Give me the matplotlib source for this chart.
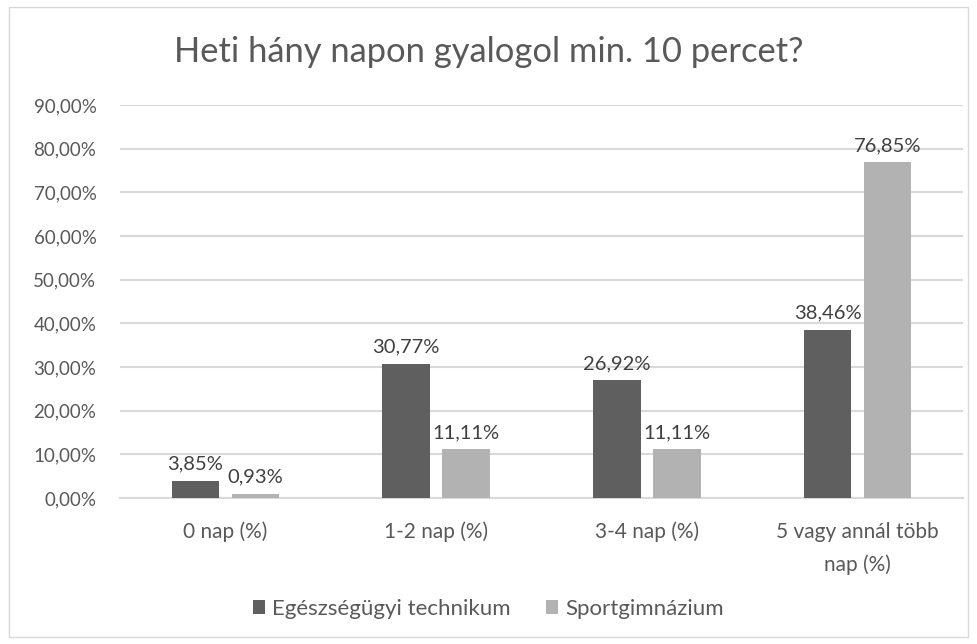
import matplotlib
matplotlib.use("Agg")
import matplotlib.pyplot as plt
from matplotlib.patches import Rectangle
import numpy as np

categories = ["0 nap (%)", "1-2 nap (%)", "3-4 nap (%)", "5 vagy annál több\nnap (%)"]
series_names = ["Egészségügyi technikum", "Sportgimnázium"]
egeszsegugyi = [3.85, 30.77, 26.92, 38.46]
sportgimn = [0.93, 11.11, 11.11, 76.85]
yticks = [0, 10, 20, 30, 40, 50, 60, 70, 80, 90]

dark = "#5f5f5f"
light = "#b2b2b2"
text_col = "#595959"

plt.rcParams['font.family'] = ['Lato', 'DejaVu Sans']

fig = plt.figure(figsize=(9.77, 6.44), dpi=100)
fig.patches.append(Rectangle((9/977, 1-637/644), 959/977, 630/644, transform=fig.transFigure,
                             fill=False, edgecolor="#d9d9d9", linewidth=1.0))
ax = fig.add_axes([120/977, 1-498/644, 843/977, 393/644])

x = np.arange(len(categories))
w = 0.225
off = 0.1425
b1 = ax.bar(x - off, egeszsegugyi, w, color=dark, label=series_names[0], zorder=3)
b2 = ax.bar(x + off, sportgimn, w, color=light, label=series_names[1], zorder=3)

def fmt(v):
    return f"{v:.2f}".replace(".", ",") + "%"

for bars, vals in ((b1, egeszsegugyi), (b2, sportgimn)):
    for r, v in zip(bars, vals):
        ax.annotate(fmt(v), (r.get_x() + r.get_width()/2, r.get_height()),
                    xytext=(0, 6), textcoords="offset points", ha="center", va="bottom",
                    fontsize=14.5, color="#404040")

ax.set_ylim(0, 90)
ax.set_xlim(-0.5, len(categories) - 0.5)
ax.set_yticks(yticks)
ax.set_yticklabels([f"{t:.2f}".replace(".", ",") + "%" for t in yticks], fontsize=13.5, color=text_col)
ax.set_xticks(x)
ax.set_xticklabels(categories, fontsize=15, color=text_col, linespacing=1.8)
ax.tick_params(axis="y", length=0, pad=17)
ax.tick_params(axis="x", length=0, pad=17)
ax.grid(axis="y", color="#d9d9d9", linewidth=1.5, zorder=0)
for s in ("top", "right", "left"):
    ax.spines[s].set_visible(False)
ax.spines["bottom"].set_color("#d9d9d9")
ax.spines["bottom"].set_linewidth(1.5)

fig.text(0.5, 1-52/644, "Heti hány napon gyalogol min. 10 percet?", ha="center", va="center",
         fontsize=24.8, color=text_col)

fig.legend(handles=[b1, b2], labels=series_names, loc="center", bbox_to_anchor=(0.5, 1-609/644),
           ncol=2, frameon=False, fontsize=16, labelcolor=text_col, handlelength=0.55,
           handleheight=0.55, handletextpad=0.3, columnspacing=1.6)

fig.savefig("out.png", dpi=100)
